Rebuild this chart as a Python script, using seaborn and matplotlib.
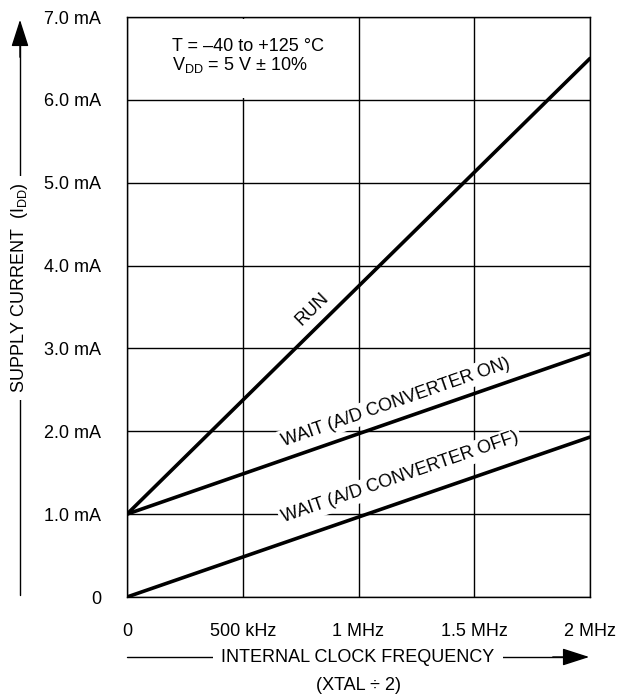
import numpy as np
import pandas as pd
import seaborn as sns
import matplotlib.pyplot as plt
from matplotlib.patches import FancyArrowPatch, Rectangle

# values
freq_mhz = [0.0, 2.0]
run_ma = [1.0, 6.5]
wait_on_ma = [1.0, 2.94]
wait_off_ma = [0.0, 1.93]
curve_names = ["RUN", "WAIT (A/D CONVERTER ON)", "WAIT (A/D CONVERTER OFF)"]

x_ticks = [0, 0.5, 1.0, 1.5, 2.0]
x_tick_labels = ["0", "500 kHz", "1 MHz", "1.5 MHz", "2 MHz"]
y_ticks = [0, 1, 2, 3, 4, 5, 6, 7]
y_tick_labels = ["0", "1.0 mA", "2.0 mA", "3.0 mA", "4.0 mA", "5.0 mA", "6.0 mA", "7.0 mA"]

# where the curve labels sit (data coords, centre of text)
label_pos = [(0.80, 3.47), (1.16, 2.35), (1.18, 1.44)]

FS = 13

sns.set_theme(style="white")
plt.rcParams["font.family"] = ["Liberation Sans", "DejaVu Sans"]
plt.rcParams["mathtext.fontset"] = "custom"
plt.rcParams["mathtext.rm"] = "Liberation Sans"
plt.rcParams["mathtext.it"] = "Liberation Sans"
for k in ["text.color", "axes.labelcolor", "xtick.color", "ytick.color", "axes.edgecolor"]:
    plt.rcParams[k] = "black"

df = pd.DataFrame({
    "freq": freq_mhz * 3,
    "idd": run_ma + wait_on_ma + wait_off_ma,
    "curve": [n for n in curve_names for _ in freq_mhz],
})

fig = plt.figure(figsize=(6.22, 7), dpi=100)
ax = fig.add_axes([127 / 622, 1 - 597 / 700, 463 / 622, 580 / 700])

sns.lineplot(data=df, x="freq", y="idd", hue="curve", palette=["black"] * 3,
             linewidth=2.6, legend=False, ax=ax, zorder=3)

ax.set_xlim(0, 2)
ax.set_ylim(0, 7)
ax.set_xticks(x_ticks)
ax.set_xticklabels(x_tick_labels)
ax.set_yticks(y_ticks)
ax.set_yticklabels(y_tick_labels)
ax.tick_params(axis="both", direction="out", length=11.5, width=1.0, color="black",
               labelsize=FS, labelcolor="black")
ax.tick_params(axis="y", pad=7)
ax.tick_params(axis="x", pad=7)
ax.set_xlabel("")
ax.set_ylabel("")
ax.grid(True, color="black", linewidth=1.0)
ax.set_axisbelow(True)
for s in ax.spines.values():
    s.set_color("black")
    s.set_linewidth(1.0)

# curve labels, rotated along each line
series = [run_ma, wait_on_ma, wait_off_ma]
for name, ys, (tx, ty) in zip(curve_names, series, label_pos):
    slope = (ys[1] - ys[0]) / (freq_mhz[1] - freq_mhz[0])
    ang = np.degrees(np.arctan(slope))
    ax.text(tx, ty, name, fontsize=FS, ha="center", va="center", rotation=ang,
            rotation_mode="anchor", transform_rotates_text=True, zorder=4,
            bbox=dict(facecolor="white", edgecolor="none", pad=2))

# conditions box: blank out the grid between 6.0 and 7.0 mA
ax.add_patch(Rectangle((0.06, 6.02), 0.88, 0.96, facecolor="white", edgecolor="none",
                       zorder=1))
ax.text(0.194, 6.75, "T = \u201340 to +125 \u00b0C\nV$_{\\mathrm{DD}}$ = 5 V \u00b1 10%",
        fontsize=FS, ha="left", va="top", linespacing=1.0, zorder=4)

# y axis title with arrow
fig.add_artist(plt.Line2D([20 / 622, 20 / 622], [1 - 595 / 700, 1 - 30 / 700],
                          color="black", linewidth=1.0))
fig.patches.append(FancyArrowPatch(
    (20 / 622, 1 - 60 / 700), (20 / 622, 1 - 17 / 700), transform=fig.transFigure,
    arrowstyle="-|>,head_length=1.4,head_width=0.45", mutation_scale=12,
    color="black", linewidth=1.0))
fig.text(20 / 622, 1 - 288 / 700, "SUPPLY CURRENT  (I$_{\\mathrm{DD}}$)", rotation=90,
         fontsize=FS, ha="center", va="center",
         bbox=dict(facecolor="white", edgecolor="none", pad=5))

# x axis title with arrow
fig.add_artist(plt.Line2D([127 / 622, 570 / 622], [1 - 657 / 700, 1 - 657 / 700],
                          color="black", linewidth=1.0))
fig.patches.append(FancyArrowPatch(
    (550 / 622, 1 - 657 / 700), (592 / 622, 1 - 657 / 700), transform=fig.transFigure,
    arrowstyle="-|>,head_length=1.4,head_width=0.45", mutation_scale=12,
    color="black", linewidth=1.0))
fig.text(358 / 622, 1 - 657 / 700, "INTERNAL CLOCK FREQUENCY", fontsize=FS,
         ha="center", va="center",
         bbox=dict(facecolor="white", edgecolor="none", pad=6))
fig.text(358 / 622, 1 - 685 / 700, "(XTAL \u00f7 2)", fontsize=FS, ha="center", va="center")

fig.savefig("out.png", dpi=100, facecolor="white")
